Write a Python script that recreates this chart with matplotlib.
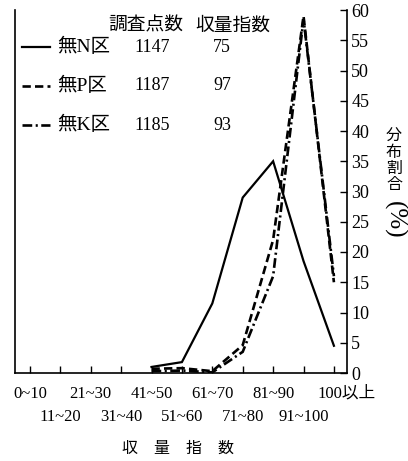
import numpy as np
import matplotlib
matplotlib.use('Agg')
import matplotlib.pyplot as plt
import matplotlib.transforms as mtrans
from matplotlib.lines import Line2D

plt.rcParams['lines.scale_dashes'] = False
SERIF = ['Liberation Serif', 'Noto Sans CJK JP']
CJK = ['Noto Sans CJK JP', 'Liberation Serif']

# ---- data ----
categories = ['0~10', '11~20', '21~30', '31~40', '41~50', '51~60',
              '61~70', '71~80', '81~90', '91~100', '100以上']
nan = np.nan
no_n = [nan, nan, nan, nan, 1.0, 1.8, 11.5, 29.0, 35.0, 18.5, 4.5]
no_p = [nan, nan, nan, nan, 0.7, 0.8, 0.3, 4.6, 22.0, 59.0, 15.0]
no_k = [nan, nan, nan, nan, 0.3, 0.4, 0.1, 3.5, 16.0, 58.5, 16.0]

series_names = ['無N区', '無P区', '無K区']
survey_counts = ['1147', '1187', '1185']
yield_index = ['75', '97', '93']
header = ['調査点数', '収量指数']
yticks = list(range(0, 61, 5))

W, H = 408, 461
fig = plt.figure(figsize=(W / 100, H / 100), dpi=100)
ax = fig.add_axes([15 / W, 1 - 373 / H, (347 - 15) / W, (373 - 10) / H])

x = np.arange(len(categories))
styles = [
    dict(color='black', lw=1.6, linestyle='-'),
    dict(color='black', lw=1.9, linestyle=(0, (6, 3))),
    dict(color='black', lw=1.9, linestyle=(0, (7, 2.5, 1.5, 2.5))),
]
for vals, st in zip([no_n, no_p, no_k], styles):
    ax.plot(x, vals, **st, solid_joinstyle='miter', dash_joinstyle='miter')

ax.set_xlim(-0.49, 10.43)
ax.set_ylim(0, 60)

for s in ['left', 'bottom', 'right']:
    ax.spines[s].set_linewidth(1.2)
ax.spines['top'].set_visible(False)

ax.yaxis.tick_right()
ax.set_yticks(yticks)
ax.set_yticklabels([str(v) for v in yticks], family=SERIF, fontsize=13)
ax.tick_params(axis='y', direction='in', length=5, width=1, pad=3)

ax.set_xticks(x)
ax.set_xticklabels(categories, family=SERIF, fontsize=12)
ax.tick_params(axis='x', direction='in', length=5, width=1, pad=9)
for i, tk in enumerate(ax.xaxis.get_major_ticks()):
    if i % 2 == 1:
        tk.set_pad(26)
lab = ax.get_xticklabels()[-1]
lab.set_transform(lab.get_transform() + mtrans.ScaledTranslation(13 / 100, 0, fig.dpi_scale_trans))

# ---- legend (manual) ----
def fx(px):
    return px / W

def fy(py):
    return 1 - py / H

fig.text(fx(146), fy(25), header[0], family=CJK, fontsize=13.5, ha='center', va='center')
fig.text(fx(233), fy(25), header[1], family=CJK, fontsize=13.5, ha='center', va='center')
row_y = [47, 86, 125]
for i in range(3):
    st = styles[i]
    ln = Line2D([fx(22), fx(50)], [fy(row_y[i]), fy(row_y[i])], transform=fig.transFigure,
                color='black', lw=st['lw'], linestyle=st['linestyle'])
    fig.add_artist(ln)
    fig.text(fx(57), fy(row_y[i]), series_names[i], family=SERIF, fontsize=14, ha='left', va='center')
    fig.text(fx(152), fy(row_y[i]), survey_counts[i], family=SERIF, fontsize=13, ha='center', va='center')
    fig.text(fx(222), fy(row_y[i]), yield_index[i], family=SERIF, fontsize=13, ha='center', va='center')

# ---- axis titles ----
fig.text(fx(178), fy(448), '収　量　指　数', family=CJK, fontsize=11.5, ha='center', va='center')
for j, ch in enumerate('分布割合'):
    fig.text(fx(394), fy(136 + 16 * j), ch, family=CJK, fontsize=11.5, ha='center', va='center')
fig.text(fx(394), fy(220), '(%)', family=SERIF, fontsize=18, ha='center', va='center', rotation=270)

fig.savefig('out.png', dpi=100)
